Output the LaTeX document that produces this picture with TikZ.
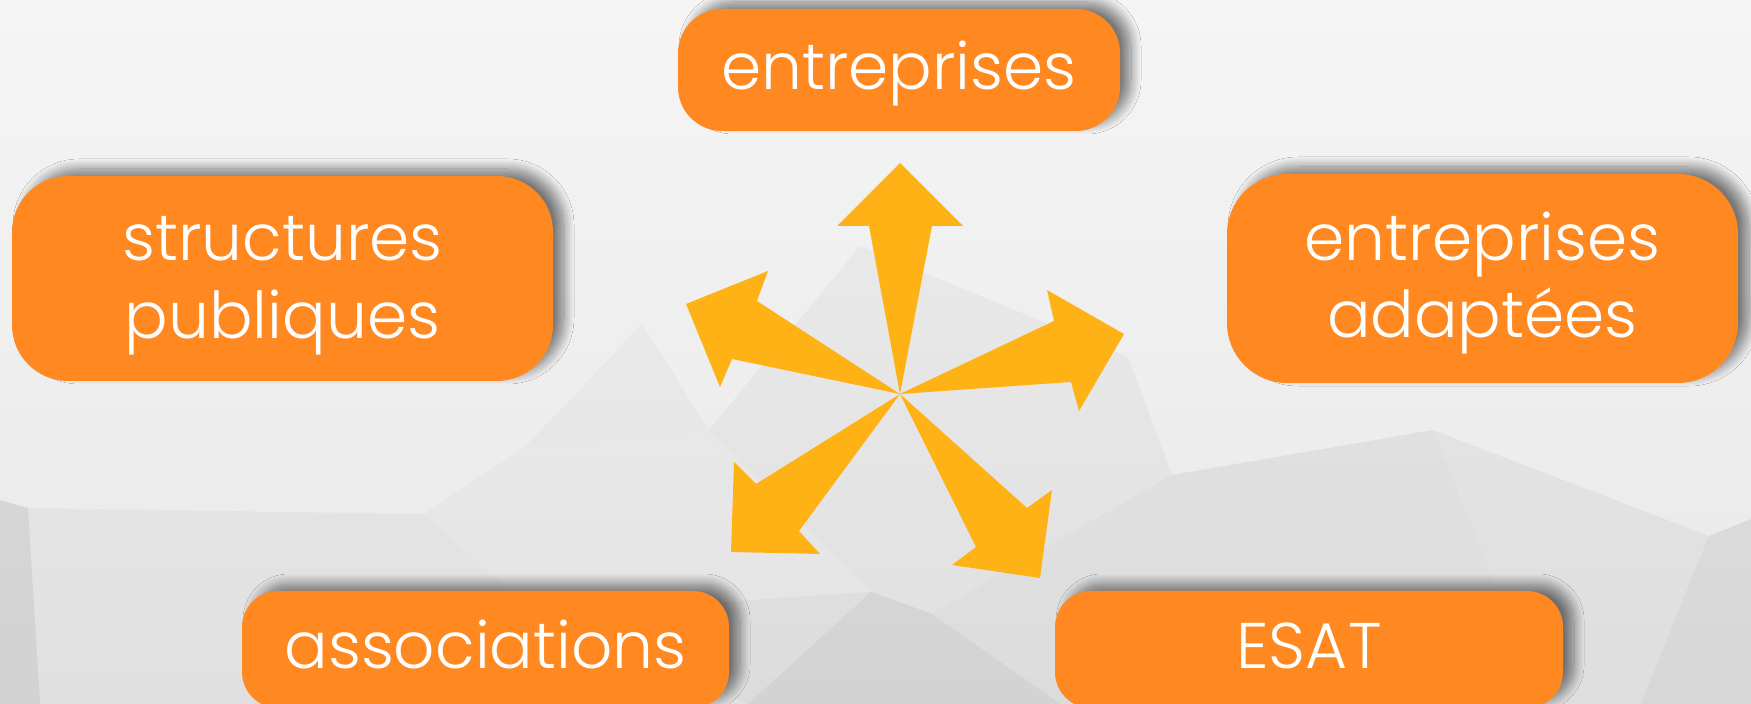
\documentclass[tikz,border=0pt]{standalone}
\usepackage{fontspec}
\setmainfont{Poppins Light}
\usetikzlibrary{shadows.blur}
\definecolor{bgtop}{HTML}{F5F5F5}
\definecolor{bgbottom}{HTML}{E8E8E8}
\definecolor{boxorange}{HTML}{FF8820}
\definecolor{arroworange}{HTML}{FFB215}
\tikzset{
  orangebox/.style={fill=boxorange, inner sep=0pt,
    blur shadow={shadow xshift=5.5pt, shadow yshift=3.5pt, shadow blur radius=5pt,
      shadow blur steps=14, shadow opacity=50}},
  lbl/.style={text=white, inner sep=0pt, anchor=base, font=\fontsize{32.3}{35}\selectfont},
  starrow/.style={fill=arroworange},
  facet/.style={fill=black, fill opacity=#1}
}
\begin{document}
\begin{tikzpicture}[x=0.5pt, y=-0.5pt]
\useasboundingbox (0,0) rectangle (1751,704);
% background
\shade[top color=bgtop, bottom color=bgbottom] (0,0) rectangle (1751,704);
\fill[facet=0.03] (860,246) -- (1128,357) -- (1172,475) -- (932,614) -- (871,592) -- (709,430) -- cycle;
\fill[facet=0.03] (0,500) -- (28,508) -- (424,514) -- (536,614) -- (748,704) -- (0,704) -- cycle;
\fill[facet=0.05] (536,614) -- (871,592) -- (932,614) -- (1172,475) -- (1433,430) -- (1541,704) -- (748,704) -- cycle;
\fill[facet=0.04] (1433,430) -- (1709,536) -- (1641,704) -- (1541,704) -- cycle;
\fill[facet=0.07] (1709,536) -- (1751,519) -- (1751,704) -- (1641,704) -- cycle;
\fill[facet=0.06] (0,500) -- (28,508) -- (40,704) -- (0,704) -- cycle;
\fill[facet=0.025] (525,447) -- (709,430) -- (642,324) -- cycle;
\fill[facet=0.02] (424,514) -- (525,447) -- (709,430) -- (871,592) -- (536,614) -- cycle;
\fill[facet=0.04] (871,592) -- (932,614) -- (1060,704) -- (748,704) -- cycle;
% boxes
\node[orangebox, minimum width=221pt, minimum height=61pt, rounded corners=22pt] (ent) at (899,70) {};
\node[orangebox, minimum width=270.5pt, minimum height=102.5pt, rounded corners=28pt] (pub) at (282.5,278.5) {};
\node[orangebox, minimum width=255.5pt, minimum height=104.5pt, rounded corners=30pt] (ada) at (1482.5,278.5) {};
\node[orangebox, minimum width=243.5pt, minimum height=58.5pt, rounded corners=18pt] (asso) at (485.5,649.5) {};
\node[orangebox, minimum width=254pt, minimum height=58.5pt, rounded corners=18pt] (esat) at (1309,649.5) {};
% labels
\node[lbl] (entT) at ([yshift=-10pt]ent.center) {entreprises};
\node[lbl] (pubT1) at ([yshift=8.8pt]pub.center) {structures};
\node[lbl] (pubT2) at ([yshift=-29.8pt]pub.center) {publiques};
\node[lbl] (adaT1) at ([yshift=8.8pt]ada.center) {entreprises};
\node[lbl] (adaT2) at ([yshift=-29.6pt]ada.center) {adaptées};
\node[lbl] (assoT) at ([yshift=-9.75pt]asso.center) {associations};
\node[lbl] (esatT) at ([yshift=-9.75pt]esat.center) {ESAT};
% arrows
\coordinate (c) at (900,394);
\fill[starrow] (c) -- (869,226) -- (837,226) -- (900,163) -- (963,226) -- (932,226) -- cycle;
\fill[starrow] (c) -- (732,359) -- (720,387) -- (686,304) -- (768,271) -- (757,301) -- cycle;
\fill[starrow] (c) -- (1054,321) -- (1047,290) -- (1124,334) -- (1079,411) -- (1071,382) -- cycle;
\fill[starrow] (c) -- (756,484) -- (734,462) -- (731,552) -- (820,554) -- (799,531) -- cycle;
\fill[starrow] (c) -- (1027,508) -- (1052,490) -- (1040,578) -- (952,565) -- (976,547) -- cycle;
\end{tikzpicture}
\end{document}
